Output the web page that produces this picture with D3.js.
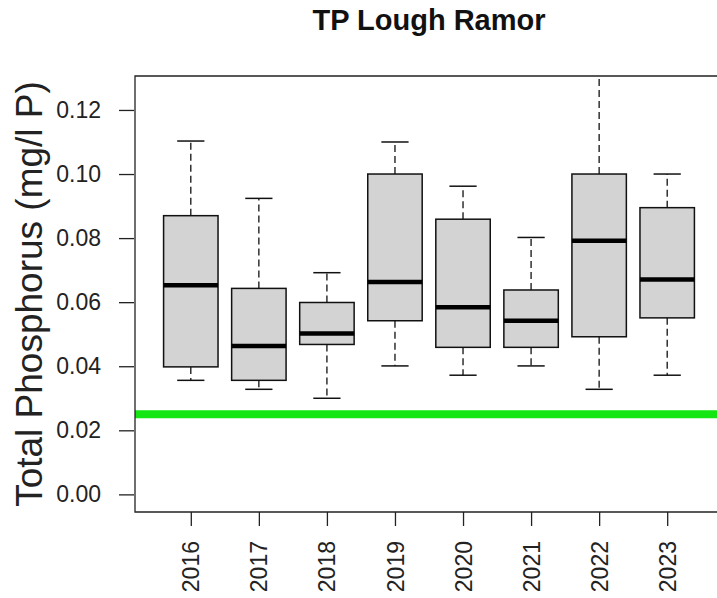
<!DOCTYPE html>
<html>
<head>
<meta charset="utf-8">
<script src="https://cdn.jsdelivr.net/npm/d3@7"></script>
<style>
  body { margin: 0; background: #fff; overflow: hidden; }
  text { font-family: "Liberation Sans", Arial, sans-serif; }
</style>
</head>
<body>
<div id="chart"></div>
<script>
// data (mg/l P)
var years = ["2016", "2017", "2018", "2019", "2020", "2021", "2022", "2023"];
var whiskLo = [0.0356, 0.0328, 0.0300, 0.0401, 0.0372, 0.0401, 0.0328, 0.0372];
var q1 = [0.0398, 0.0356, 0.0468, 0.0542, 0.0459, 0.0459, 0.0492, 0.0551];
var median = [0.0653, 0.0463, 0.0502, 0.0663, 0.0584, 0.0542, 0.0792, 0.0671];
var q3 = [0.0870, 0.0643, 0.0599, 0.1000, 0.0859, 0.0638, 0.1000, 0.0895];
var whiskHi = [0.1103, 0.0924, 0.0692, 0.1100, 0.0962, 0.0802, 0.1400, 0.1000];
var yTicks = [0, 0.02, 0.04, 0.06, 0.08, 0.10, 0.12];
var targetTP = 0.025;

var W = 717, H = 598;
// plot region (right edge is off the picture); "top" is taken by window.top
var pLeft = 135, pRight = 723, pTop = 76, pBottom = 512;

var svg = d3.select("#chart").append("svg").attr("width", W).attr("height", H)
  .style("display", "block");

// R style: xlim 0.5..n+0.5 with 4% extension
var x = d3.scaleLinear().domain([0.18, 8.82]).range([pLeft, pRight]);
var y = d3.scaleLinear().domain([-0.0055, 0.1306]).range([pBottom, pTop]);
var boxW = (x(1) - x(0)) * 0.8;

svg.append("clipPath").attr("id", "plotclip")
  .append("rect").attr("x", pLeft).attr("y", pTop).attr("width", pRight - pLeft).attr("height", pBottom - pTop);

var g = svg.append("g").attr("clip-path", "url(#plotclip)");

var data = years.map(function (yr, i) {
  return { year: yr, pos: i + 1, lo: whiskLo[i], q1: q1[i], med: median[i], q3: q3[i], hi: whiskHi[i] };
});

var box = g.selectAll("g.box").data(data).enter().append("g").attr("class", "box");

// whiskers (dashed)
box.append("line")
  .attr("x1", function (d) { return x(d.pos); }).attr("x2", function (d) { return x(d.pos); })
  .attr("y1", function (d) { return y(d.q3); }).attr("y2", function (d) { return y(d.hi); })
  .attr("stroke", "#111").attr("stroke-width", 1.3).attr("stroke-dasharray", "7,4");
box.append("line")
  .attr("x1", function (d) { return x(d.pos); }).attr("x2", function (d) { return x(d.pos); })
  .attr("y1", function (d) { return y(d.q1); }).attr("y2", function (d) { return y(d.lo); })
  .attr("stroke", "#111").attr("stroke-width", 1.3).attr("stroke-dasharray", "7,4");
// staples
box.append("line")
  .attr("x1", function (d) { return x(d.pos) - boxW / 4; }).attr("x2", function (d) { return x(d.pos) + boxW / 4; })
  .attr("y1", function (d) { return y(d.hi); }).attr("y2", function (d) { return y(d.hi); })
  .attr("stroke", "#111").attr("stroke-width", 1.5);
box.append("line")
  .attr("x1", function (d) { return x(d.pos) - boxW / 4; }).attr("x2", function (d) { return x(d.pos) + boxW / 4; })
  .attr("y1", function (d) { return y(d.lo); }).attr("y2", function (d) { return y(d.lo); })
  .attr("stroke", "#111").attr("stroke-width", 1.5);
// boxes
box.append("rect")
  .attr("x", function (d) { return x(d.pos) - boxW / 2; })
  .attr("y", function (d) { return y(d.q3); })
  .attr("width", boxW)
  .attr("height", function (d) { return y(d.q1) - y(d.q3); })
  .attr("fill", "#d3d3d3").attr("stroke", "#111").attr("stroke-width", 1.5);
// medians
box.append("line")
  .attr("x1", function (d) { return x(d.pos) - boxW / 2; }).attr("x2", function (d) { return x(d.pos) + boxW / 2; })
  .attr("y1", function (d) { return y(d.med); }).attr("y2", function (d) { return y(d.med); })
  .attr("stroke", "#000").attr("stroke-width", 4.5);

// target line
g.append("line")
  .attr("x1", pLeft).attr("x2", pRight)
  .attr("y1", y(targetTP)).attr("y2", y(targetTP))
  .attr("stroke", "#14e614").attr("stroke-width", 8);

// frame: only left, top and bottom fall inside the picture
svg.append("path")
  .attr("d", "M" + W + "," + pTop + "H" + pLeft + "V" + pBottom + "H" + W)
  .attr("fill", "none").attr("stroke", "#222").attr("stroke-width", 1.3);

// y axis
var yAxis = d3.axisLeft(y).tickValues(yTicks).tickFormat(d3.format(".2f")).tickSize(15).tickPadding(18);
var ya = svg.append("g").attr("transform", "translate(" + (pLeft - 1) + ",0)").call(yAxis);
ya.select(".domain").remove();
ya.selectAll(".tick line").attr("stroke", "#222").attr("stroke-width", 1.3);
ya.selectAll(".tick text").attr("font-size", 23).attr("fill", "#222")
  .attr("font-family", "Liberation Sans, Arial, sans-serif");

// x axis
var xAxis = d3.axisBottom(x).tickValues(data.map(function (d) { return d.pos; }))
  .tickFormat(function (d) { return years[d - 1]; }).tickSize(14).tickPadding(14);
var xa = svg.append("g").attr("transform", "translate(0," + pBottom + ")").call(xAxis);
xa.select(".domain").remove();
xa.selectAll(".tick line").attr("stroke", "#222").attr("stroke-width", 1.3);
xa.selectAll(".tick text")
  .attr("font-size", 23).attr("fill", "#222").attr("font-family", "Liberation Sans, Arial, sans-serif")
  .attr("transform", "rotate(-90)")
  .attr("text-anchor", "end").attr("dy", "0.35em")
  .attr("x", -29).attr("y", 0);

// title
svg.append("text").attr("x", (pLeft + pRight) / 2).attr("y", 30)
  .attr("text-anchor", "middle").attr("font-size", 29).attr("font-weight", "bold")
  .attr("fill", "#111").text("TP Lough Ramor");

// y label
svg.append("text")
  .attr("transform", "translate(42," + (pTop + pBottom) / 2 + ") rotate(-90)")
  .attr("text-anchor", "middle").attr("font-size", 37).attr("fill", "#222")
  .text("Total Phosphorus (mg/l P)");
</script>
</body>
</html>
